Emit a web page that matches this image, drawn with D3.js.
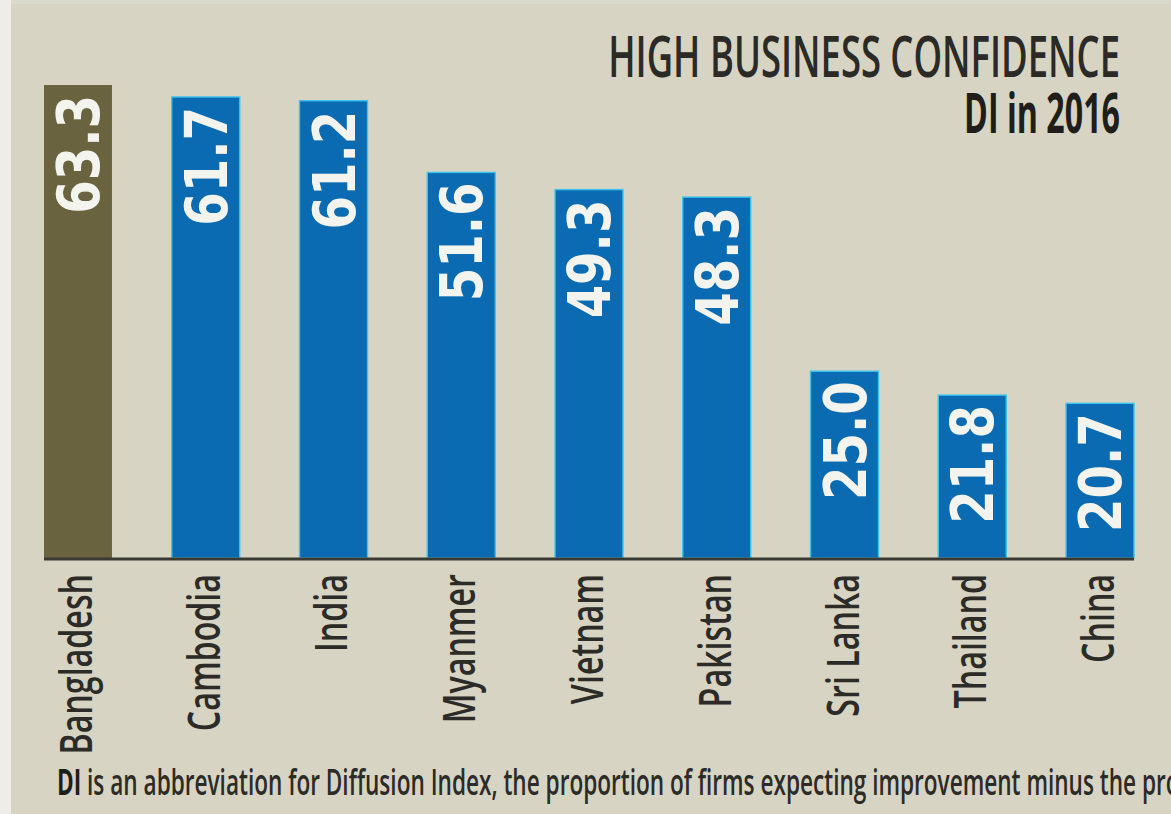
<!DOCTYPE html>
<html>
<head>
<meta charset="utf-8">
<script src="https://cdn.jsdelivr.net/npm/d3@7/dist/d3.min.js"></script>
<style>
  html, body { margin: 0; padding: 0; background: #d7d4c4; overflow: hidden; }
  svg { display: block; }
</style>
</head>
<body>
<svg id="chart" width="1171" height="814"></svg>
<script>
// ---- data ----
const categories = ["Bangladesh", "Cambodia", "India", "Myanmer", "Vietnam", "Pakistan", "Sri Lanka", "Thailand", "China"];
const values = [63.3, 61.7, 61.2, 51.6, 49.3, 48.3, 25.0, 21.8, 20.7];
const highlightCategory = "Bangladesh";
const titleText = "HIGH BUSINESS CONFIDENCE";
const subtitleText = "DI in 2016";
const noteBold = "DI";
const noteText = " is an abbreviation for Diffusion Index, the proportion of firms expecting improvement minus the proportion expecting deterioration.";
const noteVisiblePrefix = " is an abbreviation for Diffusion Index, the proportion of firms expecting improvement minus the pr";

// ---- layout ----
const W = 1171, H = 814;
const baseY = 558;
const svg = d3.select("#chart");

svg.append("rect").attr("x", 0).attr("y", 0).attr("width", W).attr("height", H).attr("fill", "#d7d4c4");
svg.append("rect").attr("x", 0).attr("y", 0).attr("width", 11).attr("height", H).attr("fill", "#eeede8");
svg.append("rect").attr("x", 11).attr("y", 0).attr("width", W - 11).attr("height", 4).attr("fill", "#dcdacd");

const x = d3.scaleBand()
  .domain(categories)
  .range([44, 1134])
  .paddingInner(0.468)
  .paddingOuter(0);

const y = d3.scaleLinear()
  .domain([0, 70])
  .range([baseY, baseY - 7.472 * 70]);

const data = categories.map((c, i) => ({ c, v: values[i] }));
const fmt = d3.format(".1f");

// bars
svg.append("g").selectAll("rect")
  .data(data)
  .join("rect")
  .attr("x", d => x(d.c))
  .attr("y", d => y(d.v))
  .attr("width", x.bandwidth())
  .attr("height", d => y(0) - y(d.v))
  .attr("fill", d => d.c === highlightCategory ? "#69633f" : "#0a6bb2")
  .attr("stroke", d => d.c === highlightCategory ? "none" : "#3cc3ec")
  .attr("stroke-width", 1.4);

// baseline
svg.append("line")
  .attr("x1", x(categories[0]))
  .attr("x2", x(categories[categories.length - 1]) + x.bandwidth())
  .attr("y1", baseY + 1)
  .attr("y2", baseY + 1)
  .attr("stroke", "#3b3a32")
  .attr("stroke-width", 3);

// value labels (rotated inside bars)
svg.append("g").selectAll("text")
  .data(data)
  .join("text")
  .attr("transform", d => `translate(${x(d.c) + x.bandwidth() / 2},${y(d.v) + 10}) rotate(-90) scale(0.83,1)`)
  .attr("text-anchor", "end")
  .attr("dy", "0.365em")
  .attr("font-family", "'DejaVu Sans', Verdana, sans-serif")
  .attr("font-weight", "bold")
  .attr("font-size", 58)
  .attr("fill", "#f4f4ee")
  .text(d => fmt(d.v));

// category labels
svg.append("g").selectAll("text")
  .data(data)
  .join("text")
  .attr("transform", d => `translate(${x(d.c) + x.bandwidth() / 2 + 14},574) rotate(-90) scale(0.7,1)`)
  .attr("text-anchor", "end")
  .attr("font-family", "'Open Sans', 'Noto Sans', sans-serif")
  .attr("font-weight", 600)
  .attr("font-size", 46)
  .attr("fill", "#2c2b27")
  .text(d => d.c);

// condensed text helper: scales a text horizontally to a target width
function condensed(sel, targetWidth, rightX, baseline) {
  const len = sel.node().getComputedTextLength();
  const s = targetWidth / len;
  sel.attr("text-anchor", "end")
     .attr("transform", `translate(${rightX},${baseline}) scale(${s},1)`);
}

// title
const title = svg.append("text")
  .attr("font-family", "'Open Sans', 'Noto Sans', sans-serif")
  .attr("font-weight", 600)
  .attr("font-size", 58)
  .attr("fill", "#2b2a26")
  .text(titleText);
condensed(title, 512, 1120, 77);

const subtitle = svg.append("text")
  .attr("font-family", "'Open Sans', 'Noto Sans', sans-serif")
  .attr("font-weight", "bold")
  .attr("font-size", 56)
  .attr("fill", "#1f1e1b")
  .text(subtitleText);
condensed(subtitle, 156, 1120, 133);

// footnote (runs past the right edge, as in the original)
const note = svg.append("text")
  .attr("font-family", "'Open Sans', 'Noto Sans', sans-serif")
  .attr("font-weight", 600)
  .attr("font-size", 36)
  .attr("fill", "#2c2b27");
note.append("tspan").attr("font-weight", "bold").attr("fill", "#1f1e1b").text(noteBold);
const rest = note.append("tspan").text(noteVisiblePrefix);
const prefixLen = note.node().getComputedTextLength();
const sx = (1166 - 57) / prefixLen;
rest.text(noteText);
note.attr("transform", `translate(57,795) scale(${sx},1)`);
</script>
</body>
</html>
